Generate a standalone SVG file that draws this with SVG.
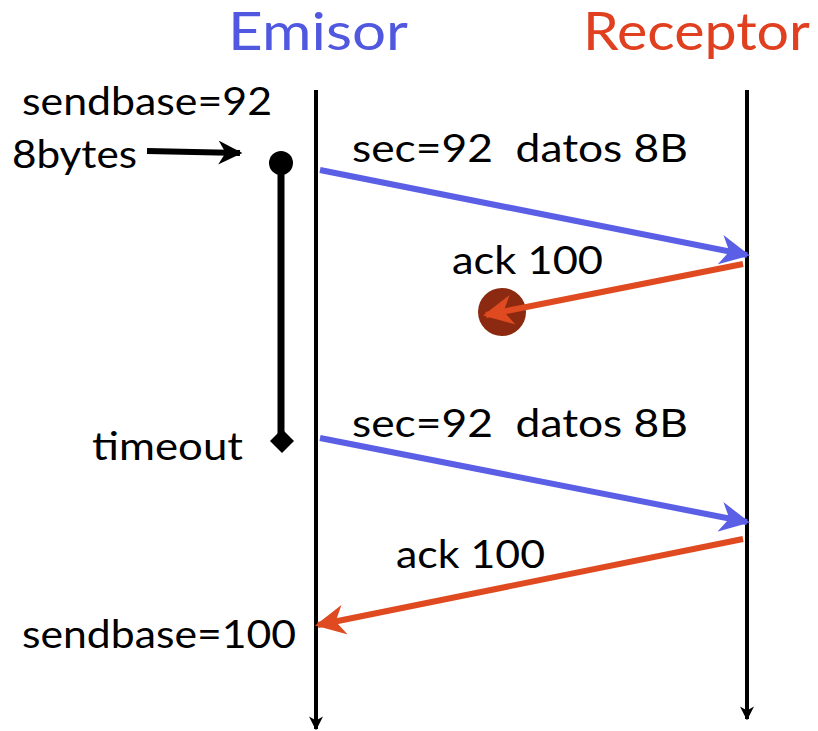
<svg xmlns="http://www.w3.org/2000/svg" width="818" height="731" viewBox="0 0 818 731">
<style>
text{font-family:Lato,"Open Sans","DejaVu Sans",sans-serif;font-size:38px;fill:#000;white-space:pre}
.title{font-size:52px}
.tl{stroke:#000;stroke-width:4;fill:none}
.blue{stroke:#5a5fe6;stroke-width:6;fill:none}
.red{stroke:#e04a20;stroke-width:6;fill:none}
</style>
<defs>
<marker id="ab" viewBox="0 0 10 10" refX="9" refY="5" markerWidth="5" markerHeight="5" markerUnits="strokeWidth" orient="auto"><path d="M0,0 L10,5 L0,10 L3,5 Z" fill="#5a5fe6"/></marker>
<marker id="ar" viewBox="0 0 10 10" refX="9" refY="5" markerWidth="5" markerHeight="5" markerUnits="strokeWidth" orient="auto"><path d="M0,0 L10,5 L0,10 L3,5 Z" fill="#e04a20"/></marker>
<marker id="ak" viewBox="0 0 10 10" refX="9" refY="5" markerWidth="4" markerHeight="4" markerUnits="strokeWidth" orient="auto"><path d="M0,0 L10,5 L0,10 L3,5 Z" fill="#000"/></marker>
<marker id="ak2" viewBox="0 0 10 10" refX="9" refY="5" markerWidth="3.5" markerHeight="4" markerUnits="strokeWidth" orient="auto"><path d="M0,0 L10,5 L0,10 L3,5 Z" fill="#000"/></marker>
</defs>
<g id="emisor">
<text class="title" x="228" y="50" textLength="180" lengthAdjust="spacingAndGlyphs" style="fill:#5058e0">Emisor</text>
</g>
<g id="receptor">
<text class="title" x="583" y="50" textLength="227" lengthAdjust="spacingAndGlyphs" style="fill:#e04020">Receptor</text>
</g>
<g id="labels">
<text x="22" y="115" textLength="250" lengthAdjust="spacingAndGlyphs">sendbase=92</text>
<text x="12" y="168" textLength="125" lengthAdjust="spacingAndGlyphs">8bytes</text>
<text x="352" y="162" textLength="336" lengthAdjust="spacingAndGlyphs">sec=92  datos 8B</text>
<text x="452" y="274" textLength="151" lengthAdjust="spacingAndGlyphs">ack 100</text>
<text x="92" y="460" textLength="151" lengthAdjust="spacingAndGlyphs">timeout</text>
<text x="352" y="437" textLength="336" lengthAdjust="spacingAndGlyphs">sec=92  datos 8B</text>
<text x="396" y="568" textLength="149" lengthAdjust="spacingAndGlyphs">ack 100</text>
<text x="22" y="648" textLength="274" lengthAdjust="spacingAndGlyphs">sendbase=100</text>
</g>
<g id="timer">
<line x1="281" y1="163" x2="281" y2="441" stroke="#000" stroke-width="7"/>
<circle cx="281" cy="163" r="12" fill="#000"/>
<path d="M282,429 L294,441 L282,453 L270,441 Z" fill="#000"/>
</g>
<g id="lost">
<circle cx="502" cy="312" r="24" fill="#8b2a10"/>
</g>
<g id="connectors">
<line class="tl" x1="316" y1="90" x2="316" y2="729" marker-end="url(#ak2)"/>
<line class="tl" x1="747" y1="90" x2="747" y2="719" marker-end="url(#ak2)"/>
<line x1="147" y1="151" x2="240" y2="153" stroke="#000" stroke-width="6" marker-end="url(#ak)"/>
<line class="blue" x1="320" y1="170" x2="747" y2="255" marker-end="url(#ab)"/>
<line class="red" x1="743" y1="264" x2="486" y2="315" marker-end="url(#ar)"/>
<line class="blue" x1="320" y1="438" x2="747" y2="522" marker-end="url(#ab)"/>
<line class="red" x1="743" y1="539" x2="318" y2="625" marker-end="url(#ar)"/>
</g>
</svg>
